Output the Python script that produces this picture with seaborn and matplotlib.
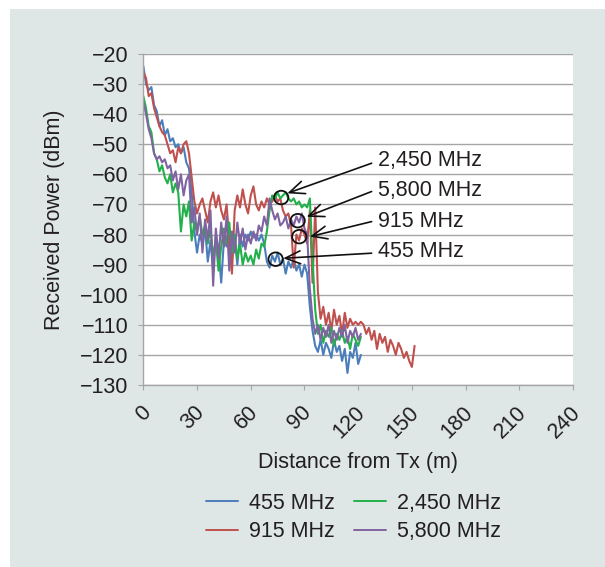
import numpy as np
import pandas as pd
import matplotlib
matplotlib.use('Agg')
import matplotlib.pyplot as plt
from matplotlib.patches import Ellipse, Rectangle
from matplotlib.lines import Line2D
from matplotlib.transforms import ScaledTranslation
import seaborn as sns

sns.set_style('whitegrid')
plt.rcParams['font.family'] = ['Liberation Sans', 'DejaVu Sans']
plt.rcParams['font.size'] = 15.5

#%% data (received power in dBm, one sample every 1.5 m)

step = 1.5

p455 = [-24, -30, -32, -31, -37, -39, -44, -42, -47, -45,
        -49, -48, -51, -50, -53, -51, -56, -58, -66, -79,
        -86, -80, -83, -78, -89, -82, -92, -80, -85, -96,
        -82, -84, -79, -88, -81, -90, -80, -84, -80, -82,
        -79, -81, -80, -82, -80, -83, -89, -91, -87, -89,
        -86, -90, -88, -93, -89, -91, -88, -92, -90, -94,
        -90, -93, -104, -112, -117, -119, -115, -120, -116, -118,
        -121, -115, -119, -117, -122, -118, -126, -119, -121, -116,
        -123, -120]

p915 = [-26, -28, -34, -33, -38, -41, -44, -46, -47, -50,
        -53, -52, -56, -51, -53, -50, -49, -53, -61, -69,
        -73, -70, -68, -72, -76, -69, -66, -71, -67, -72,
        -75, -70, -82, -93, -72, -67, -71, -65, -70, -73,
        -67, -64, -70, -72, -69, -71, -68, -70, -69, -67,
        -69, -68, -72, -74, -73, -77, -91, -80, -82, -78,
        -80, -83, -72, -96, -71, -99, -108, -104, -110, -106,
        -112, -105, -110, -107, -113, -106, -111, -108, -110, -109,
        -110, -109, -110, -113, -111, -115, -112, -118, -113, -116,
        -114, -119, -115, -117, -120, -116, -118, -121, -119, -122,
        -124, -117]

p2450 = [-34, -38, -44, -46, -53, -55, -59, -57, -61, -63,
         -60, -66, -63, -66, -79, -70, -74, -69, -82, -76,
         -79, -74, -80, -77, -83, -78, -87, -82, -92, -84,
         -78, -83, -76, -86, -80, -88, -83, -90, -86, -89,
         -87, -90, -85, -88, -83, -84, -79, -72, -67, -68,
         -66, -68, -67, -66, -68, -69, -68, -70, -69, -71,
         -70, -71, -68, -88, -105, -113, -110, -116, -112, -114,
         -111, -117, -113, -115, -112, -116, -114, -118, -113, -115,
         -117, -114]

p5800 = [-36, -40, -45, -48, -53, -55, -54, -56, -55, -58,
         -57, -62, -59, -65, -60, -67, -62, -60, -76, -71,
         -80, -73, -86, -75, -82, -72, -97, -78, -88, -76,
         -84, -74, -92, -79, -86, -76, -83, -78, -85, -80,
         -83, -79, -82, -77, -79, -74, -77, -68, -72, -75,
         -73, -77, -76, -74, -78, -75, -77, -74, -76, -73,
         -78, -80, -98, -108, -113, -110, -115, -111, -114, -110,
         -116, -112, -115, -111, -114, -110, -116, -112, -114, -111,
         -115, -113]

bands = ['455 MHz', '915 MHz', '2,450 MHz', '5,800 MHz']
colors = ['#4a7ebb', '#c0504d', '#22b04b', '#8064a2']

# callouts: label, circle centre, arrow tip, arrow tail, text y
callouts = [('2,450 MHz', (77.0, -67.7), (80.4, -66.3), (127.5, -56.3), -55.4),
            ('5,800 MHz', (86.2, -75.4), (91.2, -74.1), (127.5, -65.7), -65.4),
            ('915 MHz', (87.1, -80.7), (93.0, -80.7), (127.5, -75.7), -75.7),
            ('455 MHz', (73.9, -88.2), (78.1, -87.9), (127.5, -86.2), -85.7)]

frames = []
for band, vals in zip(bands, [p455, p915, p2450, p5800]):
    frames.append(pd.DataFrame({'Distance': np.arange(len(vals)) * step,
                                'Power': vals, 'Band': band}))
df = pd.concat(frames, ignore_index=True)

#%% plot

txtc = '#231f20'
gridc = '#a5a5a5'

fig = plt.figure(figsize=(6.05, 5.67), dpi=100)
fig.patches.append(Rectangle((10/605, 0), 1, 1 - 9/567, transform=fig.transFigure,
                             facecolor='#dfe7e6', edgecolor='none', zorder=-10))
ax = fig.add_axes([0.2369, 0.321, 0.7103, 0.5838])
ax.set_facecolor('white')

sns.lineplot(data=df, x='Distance', y='Power', hue='Band', hue_order=bands,
             palette=colors, sort=False, estimator=None, lw=1.5, legend=False, ax=ax)

ax.set_xlim(0, 240)
ax.set_ylim(-130, -20)
ax.set_xticks(range(0, 241, 30))
ax.set_yticks(range(-130, -19, 10))
ax.grid(axis='y', color=gridc, lw=1.0)
ax.grid(axis='x', visible=False)
for s in ['top', 'right']:
    ax.spines[s].set_visible(False)
for s in ['left', 'bottom']:
    ax.spines[s].set_color(gridc)
    ax.spines[s].set_linewidth(1.0)

ax.tick_params(axis='both', direction='out', length=3.6, width=0.8, color=gridc,
               labelsize=15.5, labelcolor=txtc, bottom=True, left=True)
ax.tick_params(axis='y', pad=7)
ax.tick_params(axis='x', pad=14)
shift = ScaledTranslation(4/100, 0, fig.dpi_scale_trans)
for lbl in ax.get_xticklabels():
    lbl.set_rotation(45)
    lbl.set_ha('right')
    lbl.set_va('center')
    lbl.set_rotation_mode('anchor')
    lbl.set_transform(lbl.get_transform() + shift)

ax.set_xlabel('Distance from Tx (m)', color=txtc, fontsize=15.5)
ax.set_ylabel('Received Power (dBm)', color=txtc, fontsize=15.5)
ax.xaxis.set_label_coords(0.5, -0.202)
ax.yaxis.set_label_coords(-0.182, 0.5)

for label, centre, tip, tail, ty in callouts:
    ax.add_patch(Ellipse(centre, 8, 4.5, fill=False, edgecolor='#111111', lw=1.3, zorder=5))
    ax.annotate('', xy=tip, xytext=tail,
                arrowprops=dict(arrowstyle='->,head_length=0.7,head_width=0.3',
                                color='#111111', lw=1.2, shrinkA=0, shrinkB=0),
                zorder=6, annotation_clip=False)
    ax.text(131, ty, label, ha='left', va='center', color=txtc, fontsize=15.5, zorder=6)

handles = [Line2D([], [], color=c, lw=1.4) for c in colors]
leg = fig.legend(handles, bands, ncol=2, loc='center', bbox_to_anchor=(0.584, 0.087),
                 frameon=False, handlelength=1.5, handletextpad=0.5, columnspacing=0.9,
                 labelspacing=0.35, borderpad=0, fontsize=15.5)
for t in leg.get_texts():
    t.set_color(txtc)

fig.savefig('out.png', dpi=100)
